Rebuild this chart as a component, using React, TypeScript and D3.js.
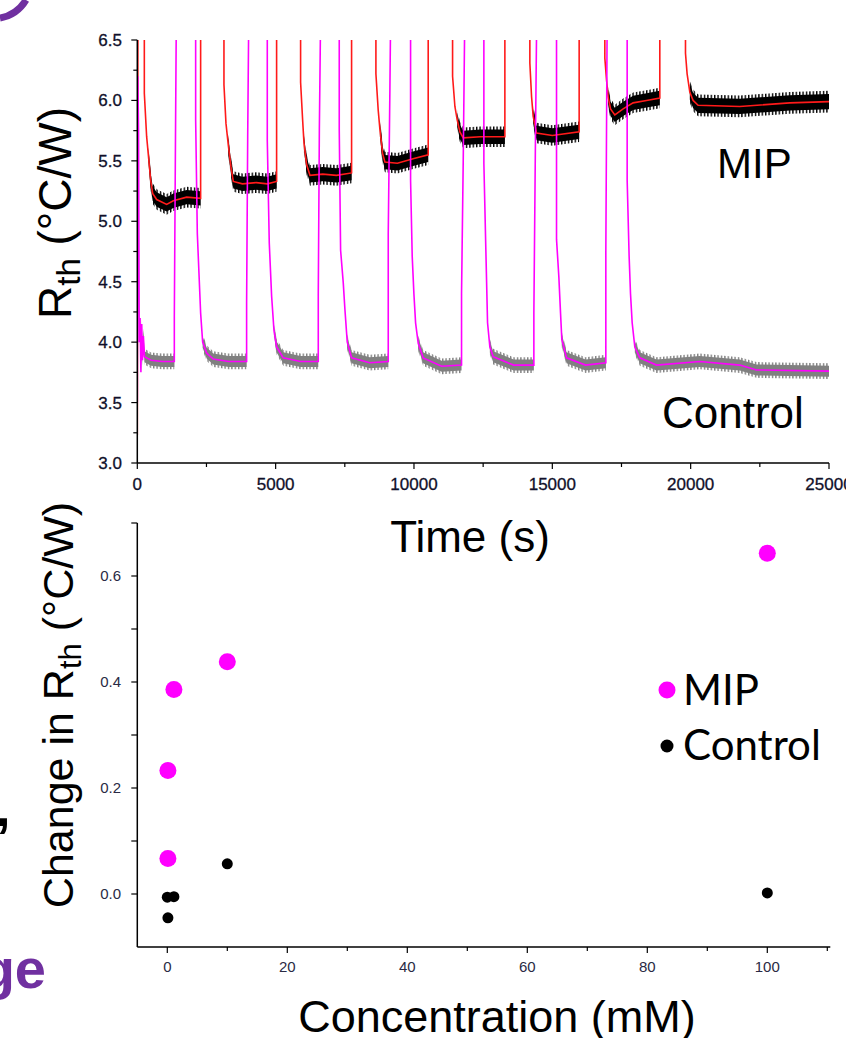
import React from 'react';
import * as d3 from 'd3';

// ---------- Top panel data: Rth vs time (s) ----------
// OFF = value above the plotted range (trace leaves the top of the panel)
const OFF = 7;
const mipTrace: [number, number][] = [
  [0, 3.23], [25, OFF],
  [254, OFF], [254, 6.06], [338, 5.70], [399, 5.55], [483, 5.34], [555, 5.23], [700, 5.18], [1061, 5.14], [1302, 5.17], [1784, 5.20], [2289, 5.19], [2289, OFF],
  [3132, OFF], [3132, 6.13], [3205, 5.81], [3289, 5.63], [3385, 5.45], [3470, 5.33], [3800, 5.31], [4300, 5.32], [4700, 5.31], [5035, 5.33], [5035, OFF],
  [5902, OFF], [5902, 6.15], [5975, 5.84], [6023, 5.65], [6119, 5.47], [6240, 5.38], [6700, 5.39], [7200, 5.38], [7745, 5.40], [7745, OFF],
  [8624, OFF], [8624, 6.22], [8707, 5.92], [8769, 5.76], [8867, 5.56], [8950, 5.49], [9400, 5.48], [10000, 5.52], [10514, 5.55], [10514, OFF],
  [11395, OFF], [11395, 6.20], [11479, 5.95], [11562, 5.84], [11659, 5.74], [11779, 5.69], [12400, 5.70], [13285, 5.70], [13285, OFF],
  [14188, OFF], [14188, 6.31], [14250, 6.03], [14307, 5.87], [14430, 5.73], [15000, 5.71], [15970, 5.74], [15970, OFF],
  [16898, OFF], [16898, 6.35], [16959, 6.17], [17018, 6.03], [17104, 5.93], [17259, 5.88], [17560, 5.93], [17920, 5.98], [18405, 6.00], [18885, 6.02], [18885, OFF],
  [19813, OFF], [19813, 6.39], [19872, 6.22], [19969, 6.07], [20088, 6.00], [20269, 5.96], [21775, 5.95], [23582, 5.98], [25000, 5.99],
];
const controlTrace: [number, number][] = [
  [0, 3.5], [20, 6.2], [45, 5.75], [70, 4.0], [100, 4.2], [130, 3.75], [160, 4.15], [190, 3.85], [220, 4.05], [260, 3.88], [500, 3.85], [900, 3.84], [1338, 3.84], [1338, 4.21], [1380, 5.69], [1420, OFF],
  [2109, OFF], [2109, 5.84], [2169, 4.90], [2229, 4.57], [2289, 4.24], [2362, 4.00], [2506, 3.91], [2746, 3.86], [3300, 3.84], [3951, 3.84], [3951, 4.32], [3990, 5.70], [4040, OFF],
  [4698, OFF], [4698, 5.67], [4770, 4.82], [4855, 4.38], [4939, 4.10], [5035, 3.96], [5276, 3.87], [5900, 3.84], [6541, 3.84], [6541, 4.39], [6580, 5.76], [6640, OFF],
  [7299, OFF], [7299, 5.76], [7348, 4.76], [7444, 4.49], [7504, 4.27], [7588, 4.00], [7745, 3.87], [8400, 3.83], [9070, 3.84], [9070, 4.89], [9130, 6.10], [9170, OFF],
  [9877, OFF], [9877, 5.34], [9936, 4.71], [9997, 4.40], [10058, 4.16], [10153, 3.99], [10333, 3.87], [11000, 3.80], [11719, 3.81], [11719, 4.40], [11780, 5.5], [11850, OFF],
  [12526, OFF], [12526, 5.48], [12598, 4.76], [12659, 4.16], [12743, 3.96], [12863, 3.88], [13600, 3.81], [14333, 3.81], [14333, 4.24], [14390, 5.67], [14450, OFF],
  [15152, OFF], [15152, 4.85], [15236, 4.54], [15297, 4.24], [15344, 4.02], [15514, 3.87], [16200, 3.81], [16934, 3.83], [16934, 4.74], [16990, OFF],
  [17705, OFF], [17705, 5.34], [17776, 4.71], [17826, 4.40], [17886, 4.16], [17982, 3.96], [18162, 3.87], [18765, 3.81], [20330, 3.84], [21775, 3.81], [22378, 3.77], [25000, 3.76],
];
// noisy raw-signal bands: [start time, end time, half-width]
const mipNoise: [number, number, number][] = [
  [399, 2289, 0.085], [3289, 5035, 0.085], [6023, 7745, 0.085], [8769, 10514, 0.085],
  [11562, 13285, 0.085], [14307, 15970, 0.085], [17018, 18885, 0.085], [19969, 25000, 0.09],
];
const controlNoise: [number, number, number][] = [
  [160, 1338, 0.065], [2362, 3951, 0.065], [4939, 6541, 0.065], [7588, 9070, 0.065],
  [10153, 11719, 0.065], [12743, 14333, 0.065], [15344, 16934, 0.065], [17982, 25000, 0.065],
];
const timeTicks = [0, 5000, 10000, 15000, 20000, 25000];
const timeMinorTicks = [2500, 7500, 12500, 17500, 22500];
const rthTicks = [3.0, 3.5, 4.0, 4.5, 5.0, 5.5, 6.0, 6.5];
const rthMinorTicks = [3.25, 3.75, 4.25, 4.75, 5.25, 5.75, 6.25];

// ---------- Bottom panel data: change in Rth vs concentration (mM) ----------
const concMIP = [0.1, 0.1, 1.1, 10, 100];
const changeMIP = [0.067, 0.233, 0.386, 0.438, 0.643];
const concControl = [0.1, 0.0, 1.1, 10, 100];
const changeControl = [-0.045, -0.006, -0.005, 0.057, 0.002];
const concTicks = [0, 20, 40, 60, 80, 100];
const concMinorTicks = [10, 30, 50, 70, 90, 110];
const changeTicks = [0.0, 0.2, 0.4, 0.6];
const changeMinorTicks = [0.1, 0.3, 0.5, 0.7];

const W = 846;
const H = 1038;
const FONT = '"Liberation Sans", Arial, sans-serif';
const MAGENTA = '#ff00ff';
const RED = '#ff1a1a';
const PURPLE = '#7030a0';

function bandOf(trace: [number, number][], seg: [number, number, number]) {
  const [a, b, amp] = seg;
  const pts = trace.filter((p, i) => !(i > 0 && trace[i - 1][0] === p[0]));
  return pts.filter(([t, v]) => t >= a && t <= b && v < 6.5).map(([t, v]) => ({ t, lo: v - amp, hi: v + amp }));
}

export default function App() {
  // top panel
  const tx = d3.scaleLinear().domain([0, 25000]).range([137.3, 829]);
  const ty = d3.scaleLinear().domain([3.0, 6.5]).range([463, 40]);
  const line = d3.line<[number, number]>().x((d) => tx(d[0])).y((d) => ty(d[1]));
  const area = d3
    .area<{ t: number; lo: number; hi: number }>()
    .x((d) => tx(d.t))
    .y0((d) => ty(d.lo))
    .y1((d) => ty(d.hi));
  const coreArea = (amp: number) =>
    d3
      .area<{ t: number; lo: number; hi: number }>()
      .x((d) => tx(d.t))
      .y0((d) => ty(d.lo + amp * 0.3))
      .y1((d) => ty(d.hi - amp * 0.3));

  // bottom panel
  const bx = d3.scaleLinear().domain([-5, 110.5]).range([137.3, 830.3]);
  const by = d3.scaleLinear().domain([-0.1, 0.7]).range([947, 523]);
  const f1 = d3.format('.1f');

  const tickLen = 6;

  return (
    <svg width={W} height={H} style={{ position: 'absolute', left: 0, top: 0, display: 'block', background: '#fff' }} fontFamily={FONT}>
      <defs>
        <clipPath id="topClip">
          <rect x={137.3} y={40} width={829 - 137.3} height={463 - 40} />
        </clipPath>
        <pattern id="hatchK" width={3.4} height={7} patternUnits="userSpaceOnUse">
          <rect x={0} y={0} width={1.4} height={7} fill="#000" />
        </pattern>
        <pattern id="hatchG" width={3.4} height={7} patternUnits="userSpaceOnUse">
          <rect x={0} y={0} width={1.4} height={7} fill="#808080" />
        </pattern>
      </defs>
      <rect x={0} y={0} width={W} height={H} fill="#fff" />

      {/* fragments of neighbouring slide content */}
      <path d="M0,18 Q17,15 26,0" fill="none" stroke={PURPLE} strokeWidth={7} />
      <text x={-4} y={826} fontSize={52} fontWeight="bold" fill="#000" fontFamily={FONT}>,</text>
      <text x={46} y={988} fontSize={56} fontWeight="bold" fill={PURPLE} textAnchor="end" fontFamily={FONT}>ge</text>

      {/* ---------- TOP PANEL ---------- */}
      <g clipPath="url(#topClip)">
        {controlNoise.map((s, i) => (
          <g key={'cn' + i}>
            <path d={area(bandOf(controlTrace, s)) || ''} fill="url(#hatchG)" />
            <path d={coreArea(s[2])(bandOf(controlTrace, s)) || ''} fill="#808080" />
          </g>
        ))}
        {mipNoise.map((s, i) => (
          <g key={'mn' + i}>
            <path d={area(bandOf(mipTrace, s)) || ''} fill="url(#hatchK)" />
            <path d={coreArea(s[2])(bandOf(mipTrace, s)) || ''} fill="#000" />
          </g>
        ))}
        <path d={line(mipTrace) || ''} fill="none" stroke={RED} strokeWidth={1.6} />
        <path d={line(controlTrace) || ''} fill="none" stroke={MAGENTA} strokeWidth={1.6} />
      </g>
      {/* axes */}
      <line x1={137.3} x2={137.3} y1={40} y2={463} stroke="#000" strokeWidth={1.5} />
      <line x1={137.3} x2={829} y1={463} y2={463} stroke="#000" strokeWidth={1.5} />
      {rthTicks.map((v) => (
        <g key={'ry' + v}>
          <line x1={137.3 - tickLen} x2={137.3} y1={ty(v)} y2={ty(v)} stroke="#000" strokeWidth={1.2} />
          <text x={122} y={ty(v) + 6} fontSize={17} textAnchor="end" fill="#10102a" stroke="#10102a" strokeWidth={0.3}>{f1(v)}</text>
        </g>
      ))}
      {rthMinorTicks.map((v) => (
        <line key={'rym' + v} x1={137.3 - 4} x2={137.3} y1={ty(v)} y2={ty(v)} stroke="#000" strokeWidth={1.2} />
      ))}
      {timeTicks.map((t) => (
        <g key={'tx' + t}>
          <line x1={tx(t)} x2={tx(t)} y1={463} y2={463 + tickLen} stroke="#000" strokeWidth={1.2} />
          <text x={tx(t)} y={490} fontSize={17} textAnchor="middle" fill="#10102a" stroke="#10102a" strokeWidth={0.3}>{t}</text>
        </g>
      ))}
      {timeMinorTicks.map((t) => (
        <line key={'txm' + t} x1={tx(t)} x2={tx(t)} y1={463} y2={463 + 4} stroke="#000" strokeWidth={1.2} />
      ))}
      <text transform="translate(71,213) rotate(-90)" textAnchor="middle" fontSize={46} fill="#000">
        R<tspan fontSize={33} dy={9}>th</tspan><tspan dy={-9}> (°C/W)</tspan>
      </text>
      <text x={470} y={552} fontSize={44} textAnchor="middle" fill="#000">Time (s)</text>
      <text x={717} y={178} fontSize={42} fill="#000">MIP</text>
      <text x={662} y={428} fontSize={44} fill="#000">Control</text>

      {/* ---------- BOTTOM PANEL ---------- */}
      <line x1={137.3} x2={137.3} y1={523} y2={947} stroke="#000" strokeWidth={1.5} />
      <line x1={137.3} x2={830.3} y1={947} y2={947} stroke="#000" strokeWidth={1.5} />
      {changeTicks.map((v) => (
        <g key={'cy' + v}>
          <line x1={137.3 - tickLen} x2={137.3} y1={by(v)} y2={by(v)} stroke="#000" strokeWidth={1.2} />
          <text x={121} y={by(v) + 5} fontSize={15} textAnchor="end" fill="#2a2a44">{f1(v)}</text>
        </g>
      ))}
      {changeMinorTicks.map((v) => (
        <line key={'cym' + v} x1={137.3 - tickLen} x2={137.3} y1={by(v)} y2={by(v)} stroke="#000" strokeWidth={1.2} />
      ))}
      {concTicks.map((c) => (
        <g key={'cx' + c}>
          <line x1={bx(c)} x2={bx(c)} y1={947} y2={947 + tickLen} stroke="#000" strokeWidth={1.2} />
          <text x={bx(c)} y={972} fontSize={15} textAnchor="middle" fill="#2a2a44">{c}</text>
        </g>
      ))}
      {concMinorTicks.map((c) => (
        <line key={'cxm' + c} x1={bx(c)} x2={bx(c)} y1={947} y2={947 + 4} stroke="#000" strokeWidth={1.2} />
      ))}
      {concControl.map((c, i) => (
        <circle key={'pc' + i} cx={bx(c)} cy={by(changeControl[i])} r={5.5} fill="#000" />
      ))}
      {concMIP.map((c, i) => (
        <circle key={'pm' + i} cx={bx(c)} cy={by(changeMIP[i])} r={8.5} fill={MAGENTA} />
      ))}
      <text transform="translate(73,705) rotate(-90)" textAnchor="middle" fontSize={43} fill="#000">
        Change in R<tspan fontSize={31} dy={8}>th</tspan><tspan dy={-8}> (°C/W)</tspan>
      </text>
      <text x={497} y={1032} fontSize={45} textAnchor="middle" fill="#000">Concentration (mM)</text>

      {/* legend */}
      <circle cx={667} cy={690} r={8.5} fill={MAGENTA} />
      <text x={683} y={705} fontSize={42} fill="#000" fontFamily="Lato, sans-serif">MIP</text>
      <circle cx={667} cy={746} r={6.5} fill="#000" />
      <text x={683} y={760} fontSize={42} fill="#000" fontFamily="Lato, sans-serif">Control</text>
    </svg>
  );
}
